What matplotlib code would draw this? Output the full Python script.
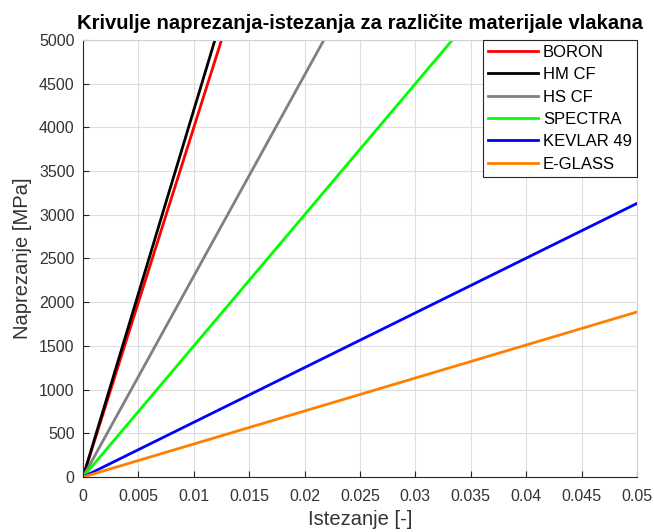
import matplotlib
matplotlib.use("Agg")
import matplotlib.pyplot as plt

# strain range and stress reached at the last strain point [MPa]
strain = [0.0, 0.05]
materials = ["BORON", "HM CF", "HS CF", "SPECTRA", "KEVLAR 49", "E-GLASS"]
stress_end = [20000, 21000, 11500, 7500, 3130, 1888]
colors = ["#ff0000", "#000000", "#808080", "#00ff00", "#0000ff", "#ff8000"]

xticks = [0, 0.005, 0.01, 0.015, 0.02, 0.025, 0.03, 0.035, 0.04, 0.045, 0.05]
xticklabels = ["0", "0.005", "0.01", "0.015", "0.02", "0.025", "0.03", "0.035", "0.04", "0.045", "0.05"]
yticks = list(range(0, 5001, 500))

plt.rcParams["font.family"] = ["Liberation Sans", "DejaVu Sans"]

fig = plt.figure(figsize=(6.54, 5.32), dpi=100)
ax = fig.add_axes([0.127, 0.1034, 0.847, 0.8215])

for name, end, color in zip(materials, stress_end, colors):
    ax.plot(strain, [0, end], color=color, linewidth=2, label=name)

ax.set_xlim(0, 0.05)
ax.set_ylim(0, 5000)
ax.set_xticks(xticks)
ax.set_xticklabels(xticklabels)
ax.set_yticks(yticks)

ax.grid(True, color="#dedede", linewidth=0.8)
ax.set_axisbelow(True)
ax.tick_params(direction="in", length=4, colors="#262626", labelsize=11.5,
               labelcolor="#333333")
ax.tick_params(axis="x", pad=9)
ax.tick_params(axis="y", pad=6)
for side in ["left", "bottom"]:
    ax.spines[side].set_color("#262626")
for side in ["top", "right"]:
    ax.spines[side].set_color("#d0d0d0")

ax.set_xlabel("Istezanje [-]", fontsize=14.5, color="#333333", labelpad=4)
ax.set_ylabel("Naprezanje [MPa]", fontsize=14.5, color="#333333", labelpad=5)
ax.set_title("Krivulje naprezanja-istezanja za različite materijale vlakana",
             fontsize=14.6, fontweight="bold", pad=8)

leg = ax.legend(loc="upper right", fontsize=12, fancybox=False, framealpha=1,
                borderaxespad=0.0, handlelength=3.0, handletextpad=0.3,
                labelspacing=0.44, borderpad=0.3)
leg.get_frame().set_edgecolor("#262626")
leg.get_frame().set_linewidth(0.8)

fig.savefig("out.png", dpi=100)
